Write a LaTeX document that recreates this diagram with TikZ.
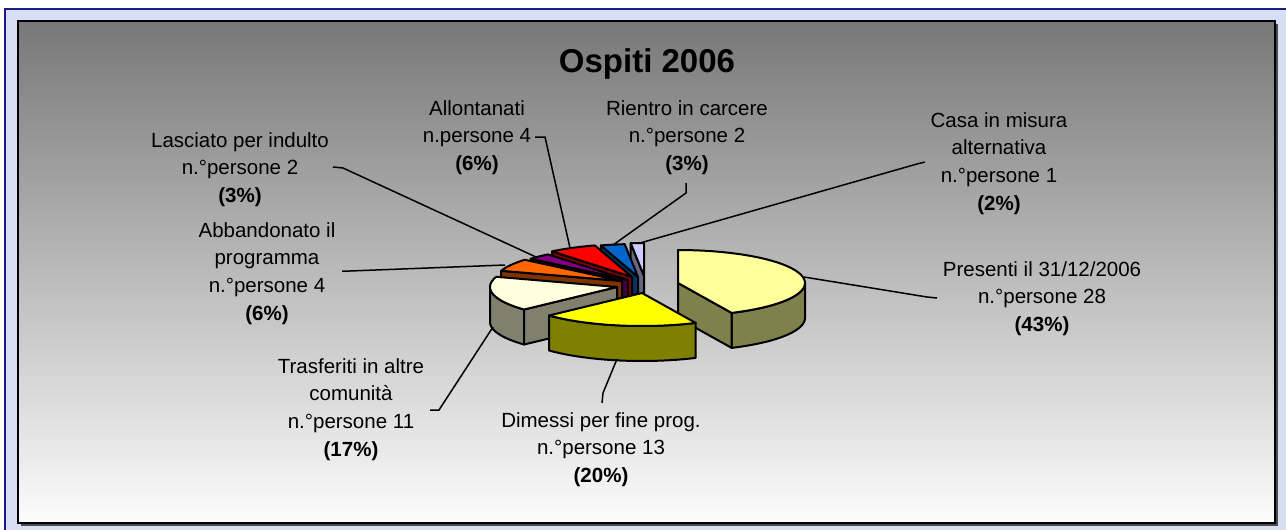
\documentclass[tikz,border=0pt]{standalone}
\usepackage{fontspec}
\setmainfont{Liberation Sans}
\definecolor{framebg}{HTML}{D8DEF3}
\definecolor{frameline}{HTML}{1A1A8C}
\definecolor{presTop}{HTML}{FFFF99}
\definecolor{presSide}{HTML}{80804C}
\definecolor{dimTop}{HTML}{FFFF00}
\definecolor{dimSide}{HTML}{808000}
\definecolor{trasTop}{HTML}{FFFFDD}
\definecolor{trasSide}{HTML}{80806E}
\definecolor{abbTop}{HTML}{FF6600}
\definecolor{abbSide}{HTML}{803300}
\definecolor{lasTop}{HTML}{800080}
\definecolor{lasSide}{HTML}{400040}
\definecolor{allTop}{HTML}{FF0000}
\definecolor{allSide}{HTML}{800000}
\definecolor{rieTop}{HTML}{0066CC}
\definecolor{rieSide}{HTML}{003366}
\definecolor{casTop}{HTML}{CCCCFF}
\definecolor{casSide}{HTML}{666680}
% pie: radii and thickness
\def\pierx{127}
\def\piery{33}
\def\pieh{35}
% #1,#2 apex, #3,#4 angles (clockwise from top), #5 top colour, #6 side colour
\newcommand{\pieslice}[6]{%
  \pgfmathsetmacro{\wa}{max(#3,90)}%
  \pgfmathsetmacro{\wb}{min(#4,270)}%
  \pgfmathtruncatemacro{\vis}{\wb>\wa ? 1 : 0}%
  \ifnum\vis=1
    \filldraw[slice edge, fill=#6] plot[domain=\wa:\wb, samples=40] ({#1+\pierx*sin(\x)},{#2-\piery*cos(\x)})
      -- plot[domain=\wb:\wa, samples=40] ({#1+\pierx*sin(\x)},{#2+\pieh-\piery*cos(\x)}) -- cycle;
  \fi
  \pgfmathtruncatemacro{\vis}{sin(#3)<-0.001 ? 1 : 0}%
  \ifnum\vis=1
    \filldraw[slice edge, fill=#6] (#1,#2) -- ({#1+\pierx*sin(#3)},{#2-\piery*cos(#3)})
      -- ++(0,\pieh) -- ({#1},{#2+\pieh}) -- cycle;
  \fi
  \pgfmathtruncatemacro{\vis}{sin(#4)>0.001 ? 1 : 0}%
  \ifnum\vis=1
    \filldraw[slice edge, fill=#6] (#1,#2) -- ({#1+\pierx*sin(#4)},{#2-\piery*cos(#4)})
      -- ++(0,\pieh) -- ({#1},{#2+\pieh}) -- cycle;
  \fi
  \filldraw[slice edge, fill=#5] (#1,#2) -- plot[domain=#3:#4, samples=40] ({#1+\pierx*sin(\x)},{#2-\piery*cos(\x)}) -- cycle;
}
\begin{document}
\begin{tikzpicture}[x=1pt, y=-1pt,
  slice edge/.style={draw=black, line width=2pt, line join=round},
  leader/.style={draw=black, line width=1.5pt},
  lbl/.style={align=center, anchor=base, inner sep=0pt, font=\fontsize{20.5}{27.8}\selectfont}]
\useasboundingbox (0,0) rectangle (1286,530);
\fill[white] (0,0) rectangle (1286,530);
\fill[framebg] (5,9) rectangle (1290,535);
\draw[frameline, line width=2pt] (5,535) -- (5,9) -- (1290,9);
% chart area
\fill[black!70] (21,24) rectangle (1278,526);
\shade[top color=black!53, bottom color=black!1] (18,21) rectangle (1275,523);
\draw[black, line width=1.5pt] (18,21) rectangle (1275,523);
\node[font=\bfseries\fontsize{33}{40}\selectfont, anchor=base] (title) at (647,72) {Ospiti 2006};
% slices, back to front
\pieslice{644}{276}{354}{360}{casTop}{casSide}
\pieslice{638}{277}{343}{354}{rieTop}{rieSide}
\pieslice{632}{277}{321}{343}{allTop}{allSide}
\pieslice{628}{280}{310}{321}{lasTop}{lasSide}
\pieslice{622}{281}{288}{310}{abbTop}{abbSide}
\pieslice{678}{283}{0}{155}{presTop}{presSide}
\pieslice{617}{287}{227}{288}{trasTop}{trasSide}
\pieslice{642}{293}{155}{227}{dimTop}{dimSide}
% labels (base = last line)
\node[lbl] (lasciato) at (240,202.6) {Lasciato per indulto\\n.°persone 2\\\textbf{(3\%)}};
\node[lbl] (abbandonato) at (267,320.4) {Abbandonato il\\programma\\n.°persone 4\\\textbf{(6\%)}};
\node[lbl] (trasferiti) at (351,456.4) {Trasferiti in altre\\comunità\\n.°persone 11\\\textbf{(17\%)}};
\node[lbl] (dimessi) at (601,482.6) {Dimessi per fine prog.\\n.°persone 13\\\textbf{(20\%)}};
\node[lbl] (presenti) at (1042,331.6) {Presenti il 31/12/2006\\n.°persone 28\\\textbf{(43\%)}};
\node[lbl] (casa) at (999,210.4) {Casa in misura\\alternativa\\n.°persone 1\\\textbf{(2\%)}};
\node[lbl] (rientro) at (687,170.6) {Rientro in carcere\\n.°persone 2\\\textbf{(3\%)}};
\node[lbl] (allontanati) at (477,170.6) {Allontanati\\n.persone 4\\\textbf{(6\%)}};
% leader lines
\coordinate (presTip) at (804,277);
\coordinate (presBend) at (927,297);
\coordinate (presEnd) at (937,298);
\coordinate (dimTip) at (617,359);
\coordinate (dimBend) at (603,393);
\coordinate (dimEnd) at (602,403);
\coordinate (trasTip) at (493,327);
\coordinate (trasBend) at (439,410);
\coordinate (trasEnd) at (430,410);
\coordinate (abbTip) at (505,265);
\coordinate (abbBend) at (350,271);
\coordinate (abbEnd) at (342,271);
\coordinate (lasTip) at (536,257);
\coordinate (lasBend) at (343,168);
\coordinate (lasEnd) at (333,167);
\coordinate (allTip) at (570,248);
\coordinate (allBend) at (545,137);
\coordinate (allEnd) at (535,137);
\coordinate (rieTip) at (613,245);
\coordinate (rieBend) at (686,193);
\coordinate (rieEnd) at (686,183);
\coordinate (casTip) at (640,243);
\coordinate (casBend) at (917,164);
\coordinate (casEnd) at (925,162);
\draw[leader] (presTip) -- (presBend) -- (presEnd);
\draw[leader] (dimTip) -- (dimBend) -- (dimEnd);
\draw[leader] (trasTip) -- (trasBend) -- (trasEnd);
\draw[leader] (abbTip) -- (abbBend) -- (abbEnd);
\draw[leader] (lasTip) -- (lasBend) -- (lasEnd);
\draw[leader] (allTip) -- (allBend) -- (allEnd);
\draw[leader] (rieTip) -- (rieBend) -- (rieEnd);
\draw[leader] (casTip) -- (casBend) -- (casEnd);
\end{tikzpicture}
\end{document}
